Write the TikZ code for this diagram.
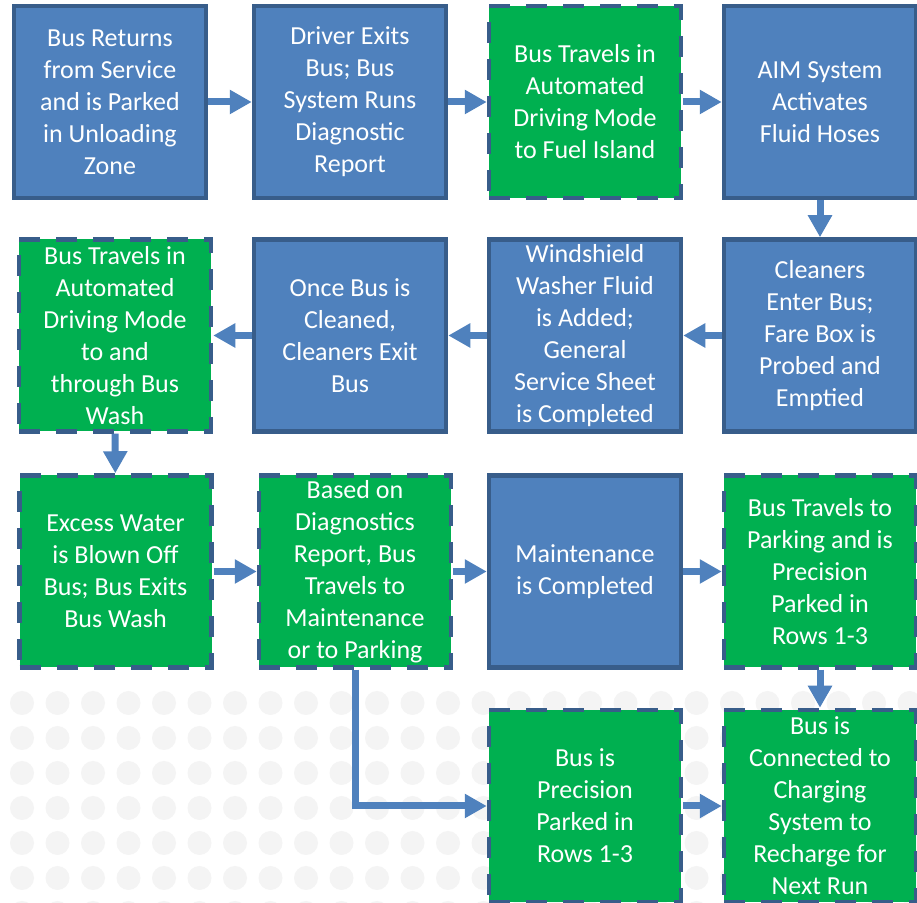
\documentclass[tikz,border=0pt]{standalone}
\usepackage{fontspec}
\setmainfont{Carlito}
\usepackage{tikz}
\usetikzlibrary{arrows.meta}

\definecolor{boxblue}{HTML}{4F81BD}
\definecolor{edgeblue}{HTML}{385D8A}
\definecolor{boxgreen}{HTML}{00B050}
\definecolor{dotgray}{HTML}{F4F4F4}

\begin{document}
\begin{tikzpicture}[x=0.5pt, y=-0.5pt,
    bluebox/.style={rectangle, draw=edgeblue, line width=2.25pt, fill=boxblue,
        minimum width=96pt, minimum height=96pt, inner sep=0pt, align=center,
        text=white, font=\fontsize{13pt}{16pt}\selectfont},
    greenbox/.style={bluebox, fill=boxgreen, dash pattern=on 10.5pt off 8pt},
    flow/.style={draw=boxblue, line width=3.5pt, -{Triangle[length=11pt, width=11.5pt]}}]
\fill[white] (0,0) rectangle (917,903);
\useasboundingbox (0,0) rectangle (917,903);
% faint dots behind the lower rows
\foreach \i in {0,...,25} {
    \foreach \j in {0,...,6} {
        \fill[dotgray] (22+35.5*\i, 703+35*\j) circle[radius=6pt];
    }
}
\foreach \n/\x/\y/\t in {b1/110/102/{Bus Returns\\from Service\\and is Parked\\in Unloading\\Zone},
    b2/350/102/{Driver Exits\\Bus; Bus\\System Runs\\Diagnostic\\Report},
    b4/820/102/{AIM System\\Activates\\Fluid Hoses},
    b6/350/335.5/{Once Bus is\\Cleaned,\\Cleaners Exit\\Bus},
    b7/585/335.5/{Windshield\\Washer Fluid\\is Added;\\General\\Service Sheet\\is Completed},
    b8/820/335.5/{Cleaners\\Enter Bus;\\Fare Box is\\Probed and\\Emptied},
    b11/585/571.5/{Maintenance\\is Completed}} {
    \node[bluebox] (\n) at (\x, \y) {\t};
}
\foreach \n/\x/\y/\t in {b3/585/102/{Bus Travels in\\Automated\\Driving Mode\\to Fuel Island},
    b5/115/335.5/{Bus Travels in\\Automated\\Driving  Mode\\to and\\through Bus\\Wash},
    b9/115.5/571.5/{Excess Water\\is Blown Off\\Bus; Bus Exits\\Bus Wash},
    b10/355/571.5/{Based on\\Diagnostics\\Report, Bus\\Travels to\\Maintenance\\or to Parking},
    b12/820/571.5/{Bus Travels to\\Parking and is\\Precision\\Parked in\\Rows 1-3},
    b13/585/806/{Bus is\\Precision\\Parked in\\Rows 1-3},
    b14/820/806/{Bus is\\Connected to\\Charging\\System to\\Recharge for\\Next Run}} {
    \node[greenbox] (\n) at (\x, \y) {\t};
}
\foreach \a/\b in {b1/b2, b2/b3, b3/b4, b4/b8, b8/b7, b7/b6, b6/b5, b5/b9,
    b9/b10, b10/b11, b11/b12, b12/b14, b13/b14} {
    \draw[flow] (\a) -- (\b);
}
\draw[flow] (b10.south) |- (b13.west);
\end{tikzpicture}
\end{document}
